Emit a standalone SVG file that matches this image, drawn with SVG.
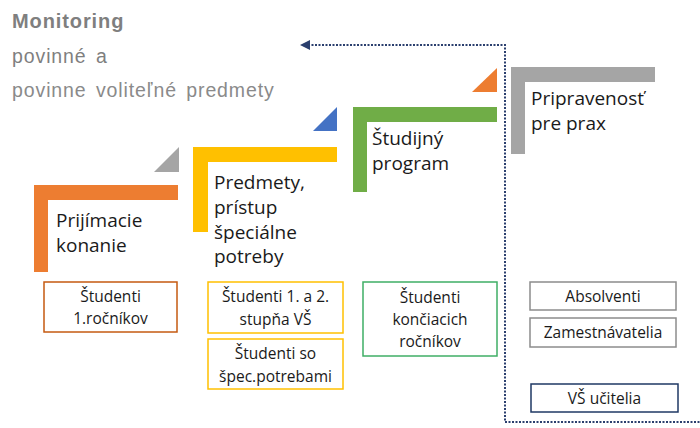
<svg xmlns="http://www.w3.org/2000/svg" width="700" height="428" viewBox="0 0 700 428">
<defs>
<style>
.title{font-family:"Liberation Sans",Arial,sans-serif;fill:#7f7f7f}
.lbl{font-family:"Open Sans","Noto Sans",sans-serif;font-size:19px;fill:#1a1a1a}
.box text{font-family:"Open Sans","Noto Sans",sans-serif;font-size:15.5px;fill:#1a1a1a;text-anchor:middle}
.box rect{fill:#ffffff;stroke-width:1.5}
.dot{fill:none;stroke:#2b3f6e;stroke-width:2;stroke-dasharray:2 1.5}
</style>
<marker id="arr" viewBox="0 0 10 10" refX="2" refY="5" markerWidth="5" markerHeight="5" orient="auto-start-reverse">
<path d="M0,0 L10,5 L0,10 z" fill="#2b3f6e"/>
</marker>
</defs>
<rect width="700" height="428" fill="#ffffff"/>

<g id="title">
<text class="title" x="12" y="28" font-size="20" font-weight="bold" letter-spacing="0.9">Monitoring</text>
<text class="title" x="12" y="63" font-size="19.5" fill="#8a8a8a" letter-spacing="0.9" word-spacing="3">povinné a</text>
<text class="title" x="12" y="97" font-size="19.5" letter-spacing="0.9" word-spacing="3" style="fill:#8a8a8a">povinne voliteľné predmety</text>
</g>

<g id="connectors">
<path class="dot" d="M308,45 L505,45 L505,422 L700,422" marker-start="url(#arr)"/>
</g>

<g id="step1">
<path d="M34,185 H178 V200 H48 V272 H34 Z" fill="#ed7d31"/>
<text class="lbl" x="56" y="227">Prijímacie</text>
<text class="lbl" x="56" y="252">konanie</text>
</g>
<g id="tri1"><path d="M154,172 L179,147 L179,172 Z" fill="#a5a5a5"/></g>

<g id="step2">
<path d="M193,147 H337 V162 H208 V232 H193 Z" fill="#ffc000"/>
<text class="lbl" x="214" y="189">Predmety,</text>
<text class="lbl" x="214" y="214">prístup</text>
<text class="lbl" x="214" y="239">špeciálne</text>
<text class="lbl" x="214" y="263">potreby</text>
</g>
<g id="tri2"><path d="M313,131 L337,107 L337,131 Z" fill="#4472c4"/></g>

<g id="step3">
<path d="M353,107 H497 V122 H367 V192 H353 Z" fill="#70ad47"/>
<text class="lbl" x="372" y="145">Študijný</text>
<text class="lbl" x="372" y="170">program</text>
</g>
<g id="tri3"><path d="M472,92 L497,68 L497,92 Z" fill="#ed7d31"/></g>

<g id="step4">
<path d="M511,67 H655 V82 H525 V154 H511 Z" fill="#a5a5a5"/>
<text class="lbl" x="531" y="105">Pripravenosť</text>
<text class="lbl" x="531" y="130">pre prax</text>
</g>

<g id="box1" class="box">
<rect x="44" y="282" width="133" height="50" stroke="#c55a11"/>
<text x="110.5" y="302">Študenti</text>
<text x="110.5" y="324">1.ročníkov</text>
</g>
<g id="box2" class="box">
<rect x="208" y="282" width="135" height="51" stroke="#ffc000"/>
<text x="275.5" y="302">Študenti 1. a 2.</text>
<text x="275.5" y="325">stupňa VŠ</text>
</g>
<g id="box3" class="box">
<rect x="208" y="339" width="135" height="50" stroke="#ffc000"/>
<text x="275.5" y="359">Študenti so</text>
<text x="275.5" y="382">špec.potrebami</text>
</g>
<g id="box4" class="box">
<rect x="363" y="282" width="134" height="74" stroke="#3fae66"/>
<text x="430" y="303">Študenti</text>
<text x="430" y="325">končiacich</text>
<text x="430" y="347">ročníkov</text>
</g>
<g id="box5" class="box">
<rect x="530" y="282" width="146" height="28" stroke="#8c8c8c"/>
<text x="603" y="302">Absolventi</text>
</g>
<g id="box6" class="box">
<rect x="530" y="318" width="146" height="29" stroke="#8c8c8c"/>
<text x="603" y="338">Zamestnávatelia</text>
</g>
<g id="box7" class="box">
<rect x="531" y="384" width="147" height="28" stroke="#1f3864"/>
<text x="604.5" y="404">VŠ učitelia</text>
</g>
</svg>
